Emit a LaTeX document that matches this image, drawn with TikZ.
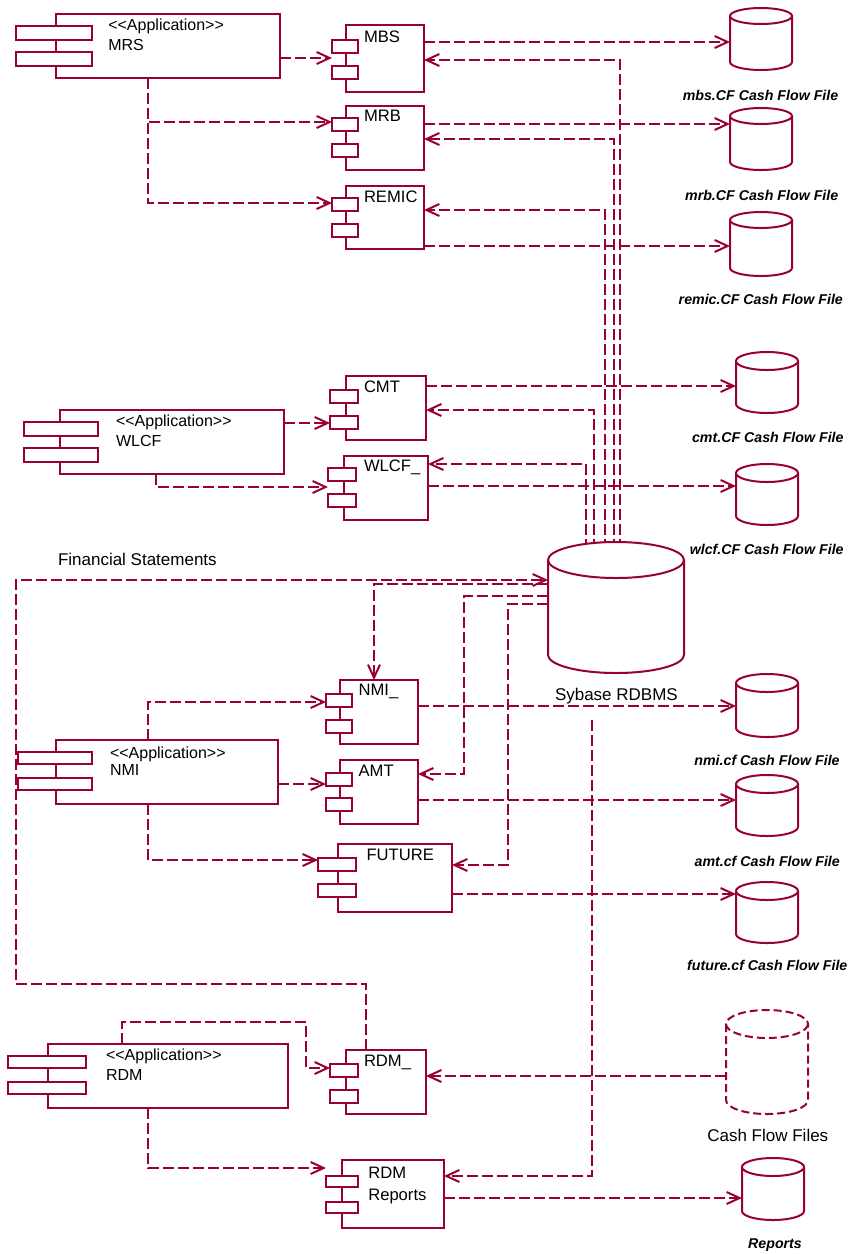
\documentclass[tikz,border=0pt]{standalone}
\usepackage{fontspec}
\setmainfont{Liberation Sans}[Ligatures=TeXOff]
\usetikzlibrary{arrows.meta,backgrounds}
\definecolor{uml}{RGB}{153,0,51}
\tikzset{
  box/.style={draw=uml, line width=2pt, fill=white, inner sep=0pt, outer sep=0pt},
  cyl/.style={draw=uml, line width=2pt, fill=white},
  dep/.style={draw=uml, line width=2pt, dash pattern=on 11pt off 4pt,
     -{Straight Barb[length=13pt,width=12pt]}},
  txt/.style={inner sep=0pt, outer sep=0pt, font=\fontsize{16}{19}\selectfont, text=black},
  ctxt/.style={txt, font=\fontsize{16.6}{19}\selectfont},
  btxt/.style={txt, font=\fontsize{17}{20}\selectfont},
  flbl/.style={inner sep=0pt, outer sep=0pt, font=\fontsize{14.2}{17}\selectfont\bfseries\itshape, text=black},
}
\newcommand{\umlsrh}{13pt}
\newcommand{\comp}[9]{%
  \node[box, minimum width={(#4-#2)*1pt}, minimum height={(#5-#3)*1pt}, anchor=north west] (#1) at (#2,#3) {};
  \node[box, minimum width={(#7-#6)*1pt}, minimum height=\umlsrh, anchor=north west] (#1-a) at (#6,#8) {};
  \node[box, minimum width={(#7-#6)*1pt}, minimum height=\umlsrh, anchor=north west] (#1-b) at (#6,#9) {};
}
\newcommand{\cylnode}[7][]{%
  \node[inner sep=0pt, outer sep=0pt, minimum width={(#5-#3)*1pt}, minimum height={(#6-#4)*1pt}, anchor=north west] (#2) at (#3,#4) {};
  \pgfmathsetmacro\cylcx{(#3+#5)/2}\pgfmathsetmacro\cylrx{(#5-#3)/2}
  \filldraw[cyl,#1] (#3,{#4+#7}) -- (#3,{#6-#7}) arc[start angle=180,end angle=0,x radius=\cylrx,y radius=#7] -- (#5,{#4+#7});
  \filldraw[cyl,#1] (\cylcx,{#4+#7}) ellipse[x radius=\cylrx,y radius=#7];
}
\begin{document}
\begin{tikzpicture}[x=1pt,y=-1pt]
\useasboundingbox (0,0) rectangle (851,1254);

% ---------- application components ----------
\renewcommand{\umlsrh}{14pt}
\comp{MRS}{56}{14}{280}{78}{16}{92}{26}{52}
\comp{WLCF}{60}{410}{284}{474}{24}{98}{422}{448}
\renewcommand{\umlsrh}{12pt}
\comp{NMI}{56}{740}{278}{804}{18}{92}{752}{778}
\comp{RDM}{48}{1044}{288}{1108}{8}{86}{1056}{1082}

% ---------- components ----------
\renewcommand{\umlsrh}{13pt}
\comp{MBS}{346}{25}{424}{92}{332}{358}{39.5}{65.5}
\comp{MRB}{346}{106}{424}{170}{332}{358}{118}{144}
\comp{REMIC}{346}{186}{424}{249}{332}{358}{197.5}{223.5}
\comp{CMT}{346}{376}{426}{440}{330}{358}{390}{416}
\comp{WLCFc}{344}{456}{428}{520}{328}{356}{468}{494}
\comp{NMIc}{340}{680}{418}{744}{326}{352}{694}{720}
\comp{AMT}{340}{760}{418}{824}{326}{352}{772.5}{798}
\comp{FUTURE}{338}{844}{452}{912}{318}{356}{858}{884}
\comp{RDMc}{346}{1050}{426}{1114}{330}{358}{1064}{1090}
\renewcommand{\umlsrh}{11pt}
\comp{RDMR}{342}{1160}{444}{1228}{326}{358}{1176}{1202}

% ---------- texts in components ----------
\node[txt, anchor=base west] (MRS-s) at (108.3,30) {<<Application>>};
\node[txt, anchor=base west] (MRS-n) at (108.3,50) {MRS};
\node[txt, anchor=base west] (WLCF-s) at (116,426) {<<Application>>};
\node[txt, anchor=base west] (WLCF-n) at (116,446) {WLCF};
\node[txt, anchor=base west] (NMI-s) at (110,758.3) {<<Application>>};
\node[txt, anchor=base west] (NMI-n) at (110,775.7) {NMI};
\node[txt, anchor=base west] (RDM-s) at (106,1060.3) {<<Application>>};
\node[txt, anchor=base west] (RDM-n) at (106,1080) {RDM};
\node[ctxt, anchor=base west] (MBS-t) at (364,42.3) {MBS};
\node[ctxt, anchor=base west] (MRB-t) at (364,121.7) {MRB};
\node[ctxt, anchor=base west] (REMIC-t) at (364,202) {REMIC};
\node[ctxt, anchor=base west] (CMT-t) at (364,392.3) {CMT};
\node[ctxt, anchor=base west] (WLCFc-t) at (364,471.7) {WLCF\_};
\node[ctxt, anchor=base west] (NMIc-t) at (358.6,695.3) {NMI\_};
\node[ctxt, anchor=base west] (AMT-t) at (358.6,776) {AMT};
\node[ctxt, anchor=base west] (FUTURE-t) at (366.6,860) {FUTURE};
\node[ctxt, anchor=base west] (RDMc-t) at (364,1066) {RDM\_};
\node[ctxt, anchor=base west] (RDMR-t1) at (368.3,1178.3) {RDM};
\node[ctxt, anchor=base west] (RDMR-t2) at (368.3,1200) {Reports};

% ---------- files / database ----------
\cylnode{mbsf}{730}{8}{792}{70}{8}
\cylnode{mrbf}{730}{108}{792}{170}{8}
\cylnode{remicf}{730}{212}{792}{276}{8}
\cylnode{cmtf}{736}{352}{798}{413}{9}
\cylnode{wlcff}{736}{464}{798}{525}{9}
\cylnode{nmif}{736}{674}{798}{737}{9}
\cylnode{amtf}{736}{775}{798}{836}{9}
\cylnode{futuref}{736}{882}{798}{943}{9}
\cylnode[dash pattern=on 8pt off 4pt]{cff}{726}{1010}{808}{1114}{14}
\cylnode{reportsf}{742}{1158}{804}{1220}{9}
\cylnode{db}{548}{542}{684}{673}{18}

\node[flbl, anchor=base] (mbsf-l) at (760.5,100) {mbs.CF Cash Flow File};
\node[flbl, anchor=base] (mrbf-l) at (761.7,200) {mrb.CF Cash Flow File};
\node[flbl, anchor=base] (remicf-l) at (760.8,304.3) {remic.CF Cash Flow File};
\node[flbl, anchor=base] (cmtf-l) at (767.8,442) {cmt.CF Cash Flow File};
\node[flbl, anchor=base] (wlcff-l) at (766.7,554.3) {wlcf.CF Cash Flow File};
\node[flbl, anchor=base] (nmif-l) at (767,765.3) {nmi.cf Cash Flow File};
\node[flbl, anchor=base] (amtf-l) at (767.2,866) {amt.cf Cash Flow File};
\node[flbl, anchor=base] (futuref-l) at (767.3,970.3) {future.cf Cash Flow File};
\node[flbl, anchor=base] (reportsf-l) at (775,1248.7) {Reports};
\node[btxt, anchor=base] (cff-l) at (767.8,1141.3) {Cash Flow Files};
\node[btxt, anchor=base west] (db-l) at (555,700.5) {Sybase RDBMS};
\node[btxt, anchor=base west] (fs-l) at (58,565) {Financial Statements};

\coordinate (dbtop) at ([yshift=-8pt]db.north);
\coordinate (dbout) at (592,720);

% ---------- connectors ----------
\begin{scope}[on background layer]
\draw[dep] (MRS.east |- 0,58) -- (MBS-a.west |- 0,58);
\draw[dep] (MRS.south -| 148,0) |- (MRB-a.west |- 0,122);
\draw[dep] (MRS.south -| 148,0) |- (REMIC-a.west |- 0,203);
\draw[dep] (MBS.east |- 0,42) -- (mbsf.west |- 0,42);
\draw[dep] (MRB.east |- 0,124) -- (mrbf.west |- 0,124);
\draw[dep] (REMIC.east |- 0,246) -- (remicf.west |- 0,246);
\draw[dep] (dbtop -| 620,0) |- (MBS.east |- 0,60);
\draw[dep] (dbtop -| 614,0) |- (MRB.east |- 0,139);
\draw[dep] (dbtop -| 605,0) |- (REMIC.east |- 0,210);
\draw[dep] (dbtop -| 594,0) |- (CMT.east |- 0,410);
\draw[dep] (dbtop -| 586,0) |- (WLCFc.east |- 0,464);
\draw[dep] (WLCF.east |- 0,423) -- (CMT-b.west |- 0,423);
\draw[dep] (WLCF.south -| 156,0) |- (WLCFc-a.west |- 0,487);
\draw[dep] (CMT.east |- 0,386) -- (cmtf.west |- 0,386);
\draw[dep] (WLCFc.east |- 0,486) -- (wlcff.west |- 0,486);
\draw[dep] (RDMc.north -| 366,0) |- (16,984) |- (db.west |- 0,580);
\draw[dep] (db.west |- 0,584) -| (NMIc.north -| 374,0);
\draw[dep] (db.west |- 0,596) -| (464,774) -- (AMT.east |- 0,774);
\draw[dep] (db.west |- 0,604) -| (508,865) -- (FUTURE.east |- 0,865);
\draw[dep] (NMI.north -| 148,0) |- (NMIc-a.west |- 0,702);
\draw[dep] (NMI.east |- 0,784) -- (AMT-a.west |- 0,784);
\draw[dep] (NMI.south -| 148,0) |- (FUTURE-a.west |- 0,860);
\draw[dep] (NMIc.east |- 0,706) -- (nmif.west |- 0,706);
\draw[dep] (AMT.east |- 0,800) -- (amtf.west |- 0,800);
\draw[dep] (FUTURE.east |- 0,894) -- (futuref.west |- 0,894);
\draw[dep] (dbout) |- (RDMR.east |- 0,1176);
\draw[dep] (RDM.north -| 122,0) |- (306,1022) |- (RDMc-a.west |- 0,1068);
\draw[dep] (RDM.south -| 148,0) |- (RDMR-a.west |- 0,1168);
\draw[dep] (cff.west |- 0,1076) -- (RDMc.east |- 0,1076);
\draw[dep] (RDMR.east |- 0,1198) -- (reportsf.west |- 0,1198);
\end{scope}
\end{tikzpicture}
\end{document}
